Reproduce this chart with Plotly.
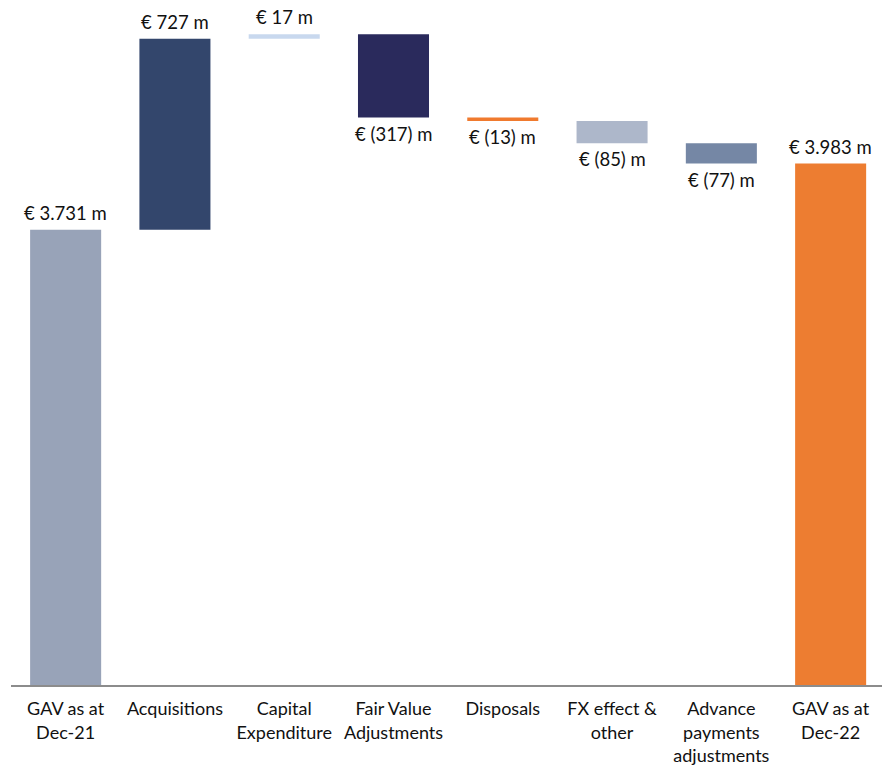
import plotly.graph_objects as go

categories = ["GAV as at<br>Dec-21", "Acquisitions", "Capital<br>Expenditure", "Fair Value<br>Adjustments",
              "Disposals", "FX effect &<br>other", "Advance<br>payments<br>adjustments", "GAV as at<br>Dec-22"]
values = [3731, 727, 17, -317, -13, -85, -77, 3983]
kinds = ["total", "delta", "delta", "delta", "delta", "delta", "delta", "total"]
labels = ["€ 3.731 m", "€ 727 m", "€ 17 m", "€ (317) m", "€ (13) m", "€ (85) m", "€ (77) m", "€ 3.983 m"]
colors = ["#98A3B8", "#33466C", "#C8D8EE", "#2A2A5C", "#F07A2E", "#ADB7CA", "#7587A5", "#ED7D31"]

AXIS_MIN = 2000
AXIS_MAX = 4605

bases, heights, ends = [], [], []
running = 0
for v, k in zip(values, kinds):
    if k == "total":
        bases.append(AXIS_MIN)
        heights.append(v - AXIS_MIN)
        running = v
        ends.append(v)
    else:
        bases.append(running)
        heights.append(v)
        running += v
        ends.append(running)

fig = go.Figure()
fig.add_trace(go.Bar(
    x=categories, y=heights, base=bases,
    marker=dict(color=colors, line=dict(width=0)),
    hoverinfo="skip",
))

FONT = "Lato, 'Noto Sans', sans-serif"
for i, (c, v, e, lab) in enumerate(zip(categories, values, ends, labels)):
    if v >= 0:
        fig.add_annotation(x=c, y=e, text=lab, showarrow=False, yanchor="bottom", yshift=4,
                           font=dict(size=18.5, color="#111111", family=FONT))
    else:
        fig.add_annotation(x=c, y=e, text=lab, showarrow=False, yanchor="top", yshift=-3,
                           font=dict(size=18.5, color="#111111", family=FONT))

fig.update_layout(
    width=882, height=766,
    margin=dict(l=11, r=0, t=0, b=81),
    paper_bgcolor="white", plot_bgcolor="white",
    bargap=0.35,
    showlegend=False,
    font=dict(family=FONT, size=18, color="#111111"),
    xaxis=dict(showline=True, linecolor="#8C8C8C", linewidth=1.5, ticks="",
               range=[-0.5, 7.47], ticklabelstandoff=7,
               tickfont=dict(size=18, family=FONT, color="#111111"), showgrid=False,
               fixedrange=True),
    yaxis=dict(range=[AXIS_MIN, AXIS_MAX], visible=False, showgrid=False, zeroline=False,
               fixedrange=True),
)

fig.write_html("out.html")
